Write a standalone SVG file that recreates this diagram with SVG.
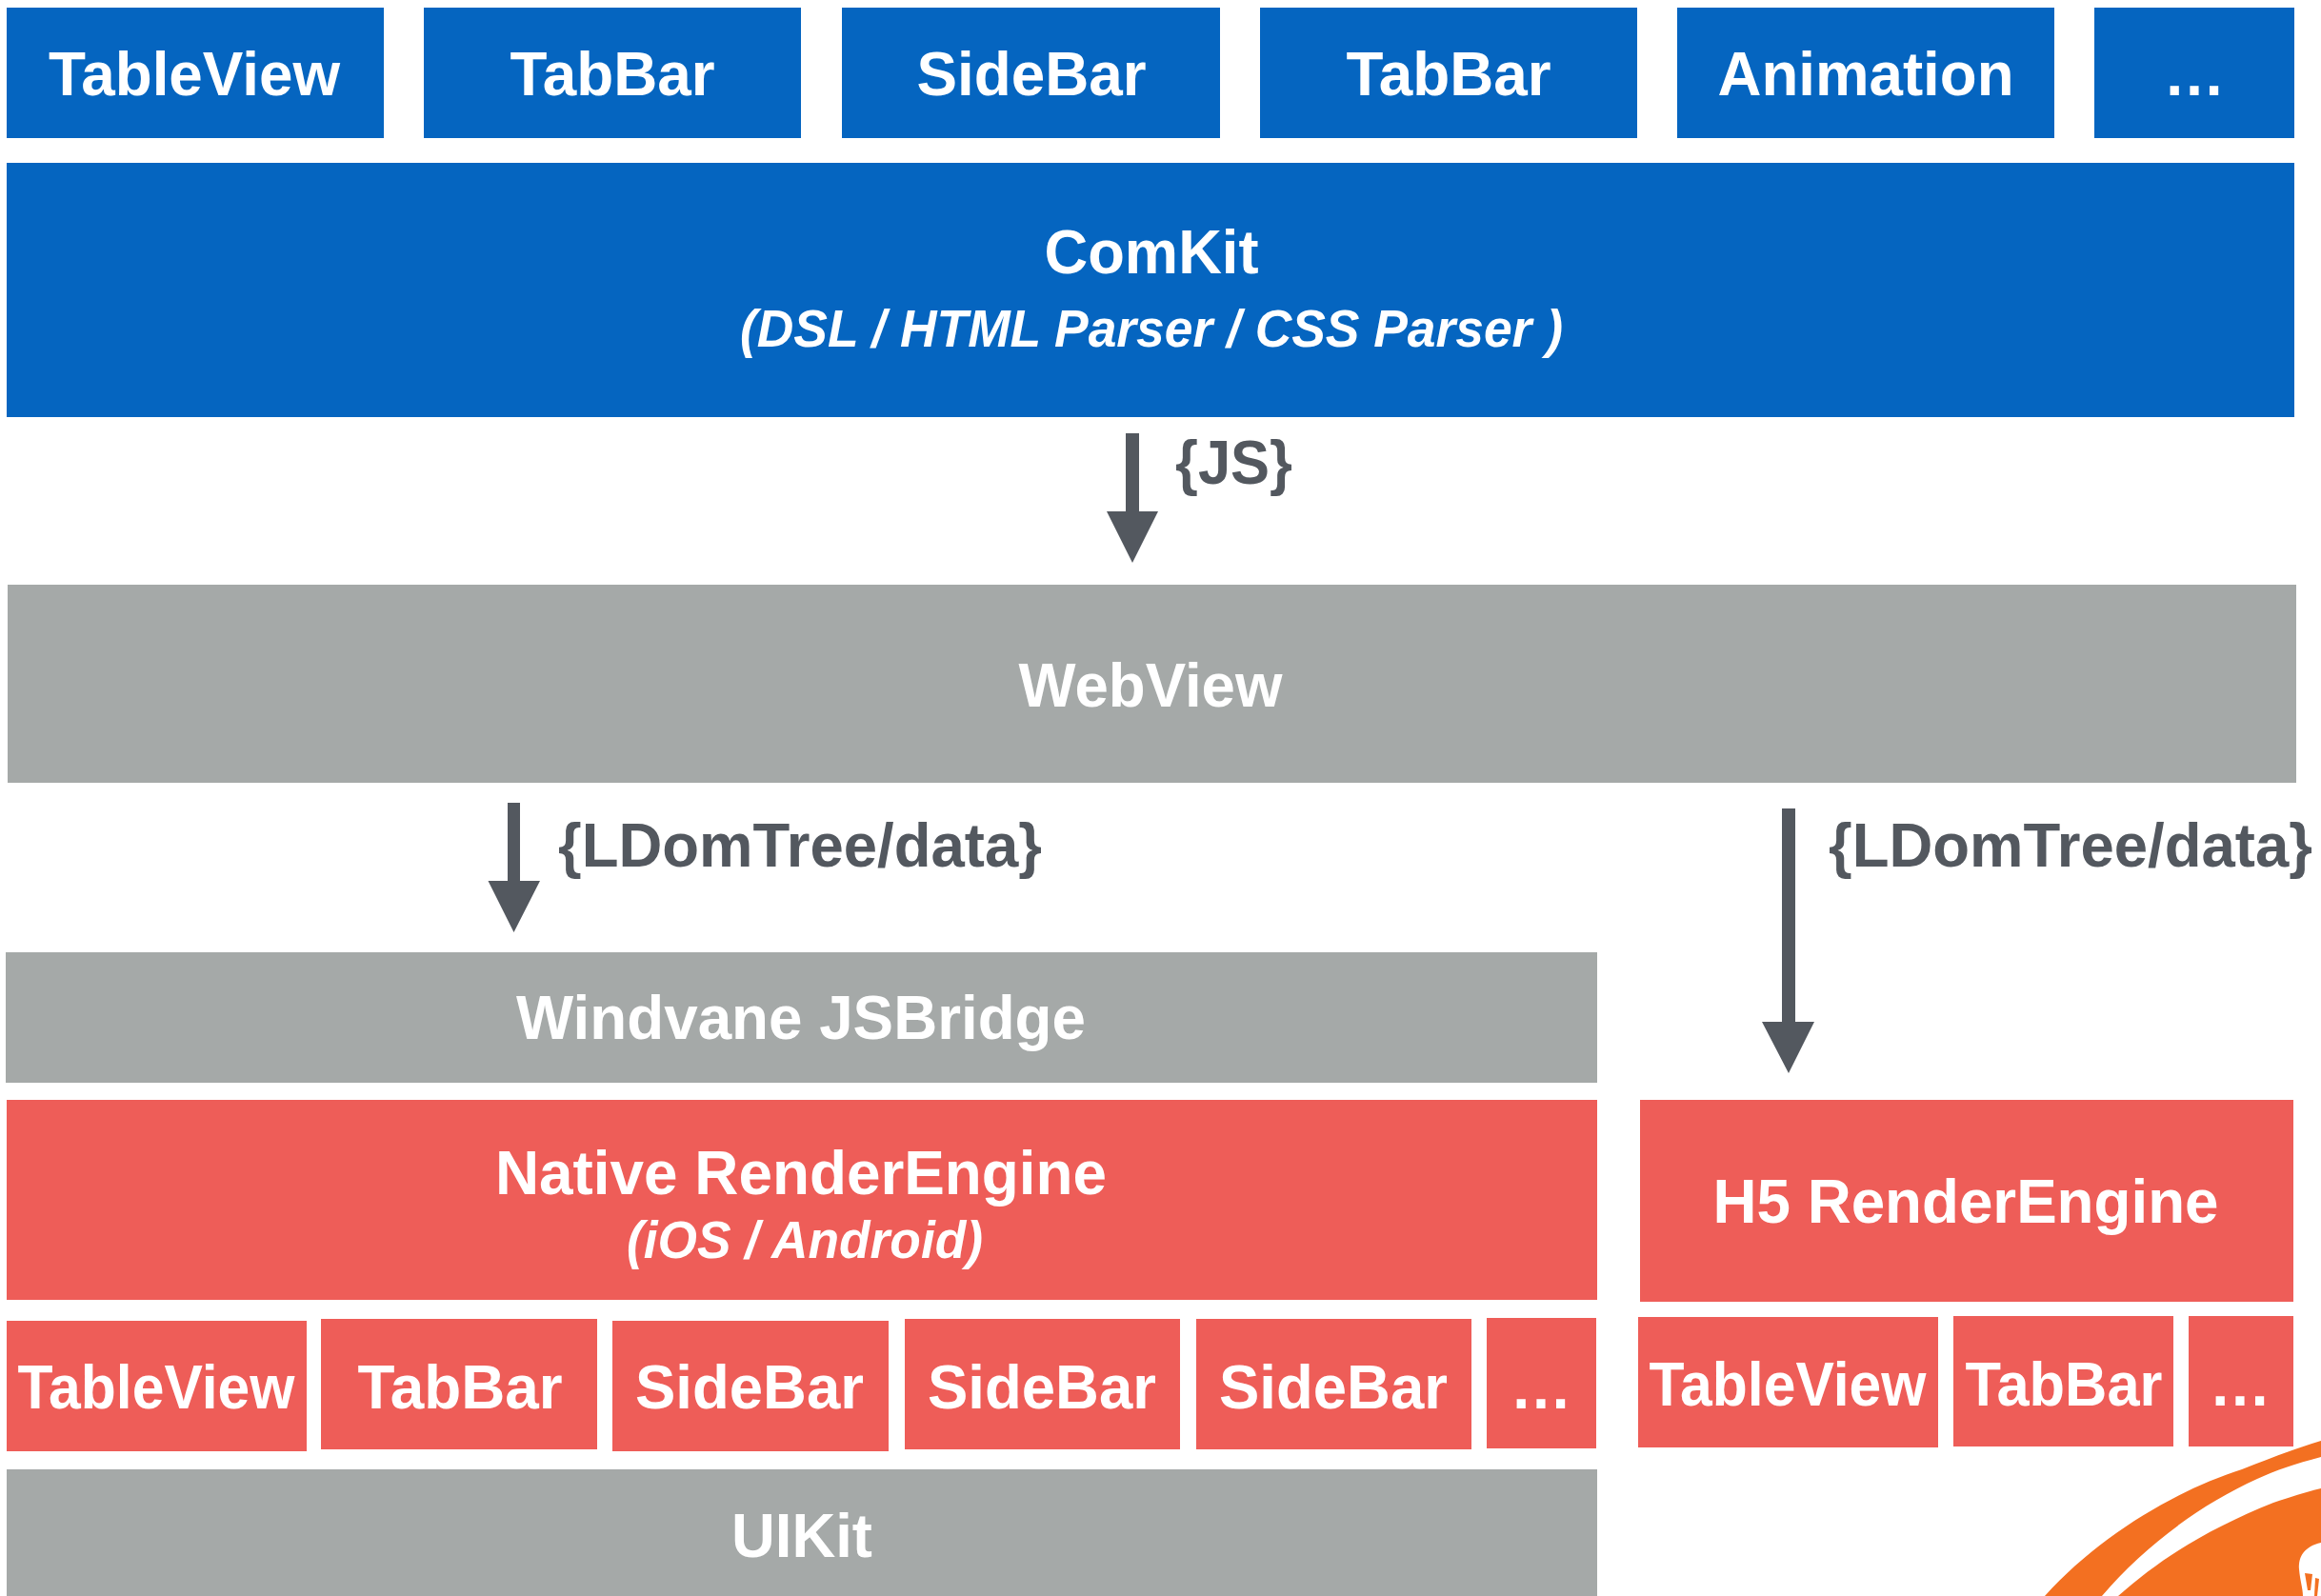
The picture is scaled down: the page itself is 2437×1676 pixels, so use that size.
<svg xmlns="http://www.w3.org/2000/svg" width="2437" height="1676" viewBox="0 0 2437 1676">
<style>
text{font-family:"Liberation Sans",Arial,sans-serif;font-weight:700;text-anchor:middle;fill:#fff;font-size:65px}
.blue{fill:#0565c0}.grey{fill:#a5a9a8}.red{fill:#ee5d58}
.sub{font-style:italic;font-size:55px}
.lbl{fill:#53585f;text-anchor:start}
.arrow{fill:#53585f}
.logo{fill:#f37021}
</style>
<rect width="2437" height="1676" fill="#fff"/>
<g id="top-tableview"><rect class="blue" x="7" y="8" width="396" height="137"/><text x="204" y="100" textLength="306" lengthAdjust="spacingAndGlyphs">TableView</text></g>
<g id="top-tabbar-1"><rect class="blue" x="445" y="8" width="396" height="137"/><text x="643" y="100" textLength="215" lengthAdjust="spacingAndGlyphs">TabBar</text></g>
<g id="top-sidebar"><rect class="blue" x="884" y="8" width="397" height="137"/><text x="1083" y="100" textLength="241" lengthAdjust="spacingAndGlyphs">SideBar</text></g>
<g id="top-tabbar-2"><rect class="blue" x="1323" y="8" width="396" height="137"/><text x="1521" y="100" textLength="215" lengthAdjust="spacingAndGlyphs">TabBar</text></g>
<g id="top-animation"><rect class="blue" x="1761" y="8" width="396" height="137"/><text x="1959" y="100" textLength="311" lengthAdjust="spacingAndGlyphs">Animation</text></g>
<g id="top-more"><rect class="blue" x="2199" y="8" width="210" height="137"/><text x="2304" y="100">…</text></g>
<g id="comkit"><rect class="blue" x="7" y="171" width="2402" height="267"/><text x="1209" y="287" textLength="225" lengthAdjust="spacingAndGlyphs">ComKit</text><text class="sub" x="1209" y="364" textLength="864" lengthAdjust="spacingAndGlyphs">(DSL / HTML Parser / CSS Parser )</text></g>
<g id="webview"><rect class="grey" x="8" y="614" width="2403" height="208"/><text x="1208" y="742" textLength="277" lengthAdjust="spacingAndGlyphs">WebView</text></g>
<g id="windvane"><rect class="grey" x="6" y="1000" width="1671" height="137"/><text x="841" y="1091" textLength="598" lengthAdjust="spacingAndGlyphs">Windvane JSBridge</text></g>
<g id="native-engine"><rect class="red" x="7" y="1155" width="1670" height="210"/><text x="841" y="1254" textLength="642" lengthAdjust="spacingAndGlyphs">Native RenderEngine</text><text class="sub" x="845" y="1321" textLength="374" lengthAdjust="spacingAndGlyphs">(iOS / Android)</text></g>
<g id="h5-engine"><rect class="red" x="1722" y="1155" width="686" height="212"/><text x="2064" y="1284" textLength="531" lengthAdjust="spacingAndGlyphs">H5 RenderEngine</text></g>
<g id="n-tableview"><rect class="red" x="7" y="1387" width="315" height="137"/><text x="164" y="1479" textLength="291" lengthAdjust="spacingAndGlyphs">TableView</text></g>
<g id="n-tabbar"><rect class="red" x="337" y="1385" width="290" height="137"/><text x="483" y="1479" textLength="215" lengthAdjust="spacingAndGlyphs">TabBar</text></g>
<g id="n-sidebar-1"><rect class="red" x="643" y="1387" width="290" height="137"/><text x="787" y="1479" textLength="240" lengthAdjust="spacingAndGlyphs">SideBar</text></g>
<g id="n-sidebar-2"><rect class="red" x="950" y="1385" width="289" height="137"/><text x="1094" y="1479" textLength="240" lengthAdjust="spacingAndGlyphs">SideBar</text></g>
<g id="n-sidebar-3"><rect class="red" x="1256" y="1385" width="289" height="137"/><text x="1400" y="1479" textLength="240" lengthAdjust="spacingAndGlyphs">SideBar</text></g>
<g id="n-more"><rect class="red" x="1561" y="1384" width="115" height="137"/><text x="1618" y="1479">…</text></g>
<g id="h-tableview"><rect class="red" x="1720" y="1383" width="315" height="137"/><text x="1877" y="1476" textLength="291" lengthAdjust="spacingAndGlyphs">TableView</text></g>
<g id="h-tabbar"><rect class="red" x="2051" y="1382" width="231" height="137"/><text x="2167" y="1476" textLength="207" lengthAdjust="spacingAndGlyphs">TabBar</text></g>
<g id="h-more"><rect class="red" x="2298" y="1382" width="110" height="137"/><text x="2352" y="1476">…</text></g>
<g id="uikit"><rect class="grey" x="7" y="1543" width="1670" height="133"/><text x="842" y="1635" textLength="148" lengthAdjust="spacingAndGlyphs">UIKit</text></g>
<g id="connectors">
<path class="arrow" d="M1182 455H1196V537H1216L1189 591L1162 537H1182Z"/>
<path class="arrow" d="M533 843H546V925H567L539.5 979L512.5 925H533Z"/>
<path class="arrow" d="M1871 849H1885V1073H1905L1878 1127L1850 1073H1871Z"/>
<text class="lbl" x="1234" y="508" textLength="123" lengthAdjust="spacingAndGlyphs">{JS}</text>
<text class="lbl" x="586" y="910" textLength="508" lengthAdjust="spacingAndGlyphs">{LDomTree/data}</text>
<text class="lbl" x="1920" y="910" textLength="508" lengthAdjust="spacingAndGlyphs">{LDomTree/data}</text>
</g>
<g id="logo">
<path class="logo" d="M2147 1676C2205 1612 2285 1565 2354 1543C2385 1531 2410 1521 2437 1513V1530C2410 1537 2390 1544 2370 1553C2310 1580 2250 1625 2207 1676Z"/>
<path class="logo" d="M2224 1676C2270 1635 2320 1605 2387 1578C2405 1572 2420 1567 2437 1563V1676Z"/>
<path fill="#fff" d="M2437 1620C2420 1624 2413 1634 2414 1648C2415 1660 2418 1668 2418 1676H2437Z"/>
<path class="logo" d="M2420 1652L2428 1653L2426 1670L2423 1670Z"/>
<path class="logo" d="M2431 1657L2435 1658L2433 1676H2430Z"/>
</g>
</svg>
